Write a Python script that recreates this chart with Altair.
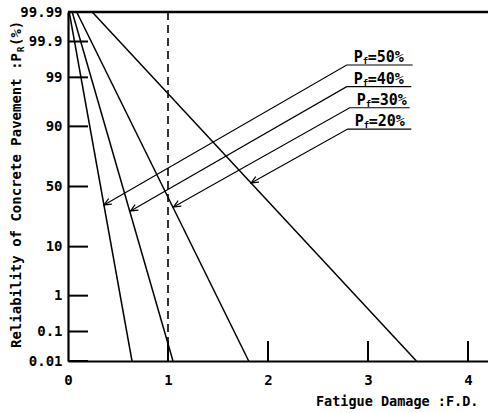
import statistics
import altair as alt
import pandas as pd

nd = statistics.NormalDist()


def probit(p):
    return nd.inv_cdf(p / 100.0)


# ---- data ----
pf_labels = ["50%", "40%", "30%", "20%"]
line_start_fd = [0.012, 0.042, 0.087, 0.242]   # F.D. at reliability 99.99 %
line_end_fd = [0.640, 1.050, 1.807, 3.484]     # F.D. at reliability 0.01 %
R_top = 99.99
R_bottom = 0.01

arrow_fd = [0.360, 0.625, 1.055, 1.831]        # arrow tips on the lines
arrow_R = [34.7, 30.1, 33.1, 53.0]
ul_left_fd = [2.787, 2.787, 2.817, 2.797]      # underline of each label
ul_right_fd = [3.447, 3.433, 3.417, 3.433]
ul_R = [99.52, 98.33, 95.34, 88.97]

y_tick_R = [0.01, 0.1, 1, 10, 50, 90, 99, 99.9, 99.99]
y_tick_text = ["0.01", "0.1", "1", "10", "50", "90", "99", "99.9", "99.99"]
x_ticks = [0, 1, 2, 3, 4]
x_inner_ticks = [1, 2, 3, 4]
design_fd = 1.0

FONT = "DejaVu Sans Mono"
W, H = 420, 349

z_lo, z_hi = probit(R_bottom), probit(R_top)
z_ticks = [probit(r) for r in y_tick_R]

# label expression for the probability axis
expr = ""
for i in range(len(z_ticks) - 1):
    mid = (z_ticks[i] + z_ticks[i + 1]) / 2
    expr += f"datum.value < {mid:.4f} ? '{y_tick_text[i]}' : "
expr += f"'{y_tick_text[-1]}'"

rows = []
for name, s, e in zip(pf_labels, line_start_fd, line_end_fd):
    rows.append({"s": name, "fd": s, "z": z_hi})
    rows.append({"s": name, "fd": e, "z": z_lo})
lines_df = pd.DataFrame(rows)

lead = []
for name, afd, aR, l, r, uR in zip(pf_labels, arrow_fd, arrow_R, ul_left_fd, ul_right_fd, ul_R):
    lead.append({"s": name, "fd": afd, "z": probit(aR), "o": 0})
    lead.append({"s": name, "fd": l, "z": probit(uR), "o": 1})
    lead.append({"s": name, "fd": r, "z": probit(uR), "o": 2})
lead_df = pd.DataFrame(lead)

arrows_df = pd.DataFrame({"fd": arrow_fd, "z": [probit(r) for r in arrow_R]})
labels_df = pd.DataFrame({
    "fd": ul_left_fd,
    "z": [probit(r) for r in ul_R],
    "txt": ["=" + p for p in pf_labels],
})
yt_df = pd.DataFrame({"z": z_ticks})
xt_df = pd.DataFrame({"fd": x_inner_ticks})

xs = alt.Scale(domain=[0, 4.2], nice=False, zero=False)
ys = alt.Scale(domain=[z_lo, z_hi], nice=False, zero=False)

x_axis = alt.Axis(values=x_ticks, ticks=False, grid=False, domainWidth=2.2,
                  domainColor="black", labelFont=FONT, labelFontSize=14,
                  labelFontWeight="bold", labelColor="black", labelPadding=12,
                  labelFlush=False, labelOverlap=False, format="d",
                  title="Fatigue Damage :F.D.", titleFont=FONT, titleFontSize=13.5,
                  titleFontWeight="bold", titleColor="black", titleAlign="right",
                  titleX=410, titleY=40, titleBaseline="middle", titleAnchor="end")
y_axis = alt.Axis(values=z_ticks, ticks=False, grid=False, domainWidth=2.2,
                  domainColor="black", labelExpr=expr, labelFont=FONT,
                  labelFontSize=14, labelFontWeight="bold", labelColor="black",
                  labelPadding=6, labelFlush=False, labelOverlap=False, title=None)

base_lines = alt.Chart(lines_df).mark_line(color="black", strokeWidth=1.5).encode(
    x=alt.X("fd:Q", scale=xs, axis=x_axis),
    y=alt.Y("z:Q", scale=ys, axis=y_axis),
    detail="s:N",
)

leaders = alt.Chart(lead_df).mark_line(color="black", strokeWidth=1.2).encode(
    x=alt.X("fd:Q", scale=xs),
    y=alt.Y("z:Q", scale=ys),
    detail="s:N",
    order="o:Q",
)

arrows = alt.Chart(arrows_df).mark_point(
    shape="M1.8,-0.8L0,0L1.8,0.8", size=64, angle=330, filled=False,
    color="black", strokeWidth=1.2, opacity=1,
).encode(x=alt.X("fd:Q", scale=xs), y=alt.Y("z:Q", scale=ys))

dashed = alt.Chart(pd.DataFrame({"fd": [design_fd]})).mark_rule(
    color="black", strokeWidth=1.6, strokeDash=[8, 5]
).encode(x=alt.X("fd:Q", scale=xs), y=alt.value(0), y2=alt.value(H))

top_rule = alt.Chart(pd.DataFrame({"z": [z_hi]})).mark_rule(
    color="black", strokeWidth=2.5
).encode(y=alt.Y("z:Q", scale=ys), x=alt.value(0), x2=alt.value(W))

y_ticks = alt.Chart(yt_df).mark_rule(color="black", strokeWidth=2).encode(
    y=alt.Y("z:Q", scale=ys), x=alt.value(0), x2=alt.value(20)
)
x_tick_marks = alt.Chart(xt_df).mark_rule(color="black", strokeWidth=2).encode(
    x=alt.X("fd:Q", scale=xs), y=alt.value(H), y2=alt.value(H - 20)
)

lab_common = dict(font=FONT, fontWeight="bold", color="black", align="left",
                  baseline="alphabetic")
lab_P = alt.Chart(labels_df).mark_text(text="P", fontSize=15, dx=7, dy=-3, **lab_common).encode(
    x=alt.X("fd:Q", scale=xs), y=alt.Y("z:Q", scale=ys))
lab_f = alt.Chart(labels_df).mark_text(text="f", fontSize=9, dx=16, dy=-1, **lab_common).encode(
    x=alt.X("fd:Q", scale=xs), y=alt.Y("z:Q", scale=ys))
lab_v = alt.Chart(labels_df).mark_text(fontSize=15, dx=21, dy=-3, **lab_common).encode(
    x=alt.X("fd:Q", scale=xs), y=alt.Y("z:Q", scale=ys), text="txt:N")

tcommon = dict(font=FONT, fontWeight="bold", color="black", angle=270,
               align="left", baseline="middle")
ytitle_main = alt.Chart(pd.DataFrame({"a": [0]})).mark_text(
    text="Reliability of Concrete Pavement :P", fontSize=14, **tcommon
).encode(x=alt.value(-51), y=alt.value(336))
ytitle_sub = alt.Chart(pd.DataFrame({"a": [0]})).mark_text(
    text="R", fontSize=9, **tcommon
).encode(x=alt.value(-47), y=alt.value(40))
ytitle_end = alt.Chart(pd.DataFrame({"a": [0]})).mark_text(
    text="(%)", fontSize=14, **tcommon
).encode(x=alt.value(-51), y=alt.value(34))

chart = alt.layer(
    base_lines, leaders, arrows, dashed, top_rule, y_ticks, x_tick_marks,
    lab_P, lab_f, lab_v, ytitle_main, ytitle_sub, ytitle_end,
).properties(
    width=W, height=H,
    autosize=alt.AutoSizeParams(type="none"),
    padding={"left": 68, "top": 12, "right": 0, "bottom": 52},
    background="white",
).configure_view(stroke=None)

chart.save("out.html", embed_options={"renderer": "svg", "actions": False})
